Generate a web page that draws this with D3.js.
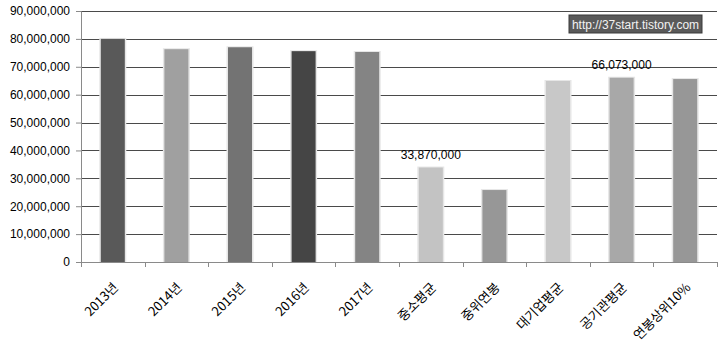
<!DOCTYPE html>
<html>
<head>
<meta charset="utf-8">
<script src="https://cdn.jsdelivr.net/npm/d3@7"></script>
<style>
  html, body { margin: 0; padding: 0; background: #fff; }
  svg { display: block; }
</style>
</head>
<body>
<div id="chart"></div>
<script>
// 데이터
const categories = ['2013년', '2014년', '2015년', '2016년', '2017년', '중소평균', '중위연봉', '대기업평균', '공기관평균', '연봉상위10%'];
const salaries = [80000000, 76300000, 77000000, 75600000, 75300000, 33870000, 25800000, 64900000, 66073000, 65600000];
const barColors = ['#595959', '#a0a0a0', '#737373', '#454545', '#848484', '#c3c3c3', '#979797', '#c8c8c8', '#a8a8a8', '#979797'];
const yTicks = [0, 10000000, 20000000, 30000000, 40000000, 50000000, 60000000, 70000000, 80000000, 90000000];
const labelled = ['중소평균', '공기관평균'];

const W = 720, H = 345;
const margin = { top: 11, right: 3, bottom: 83, left: 81 };
const width = W - margin.left - margin.right;
const height = H - margin.top - margin.bottom;

const svg = d3.select('#chart').append('svg')
    .attr('width', W)
    .attr('height', H);

const g = svg.append('g')
    .attr('transform', `translate(${margin.left},${margin.top})`);

const x = d3.scaleBand()
    .domain(categories)
    .range([0, width])
    .paddingInner(0)
    .paddingOuter(0);

const y = d3.scaleLinear()
    .domain([0, 90000000])
    .range([height, 0]);

// 그리드
g.append('g')
    .selectAll('line')
    .data(yTicks.filter(d => d > 0))
    .join('line')
    .attr('x1', 0)
    .attr('x2', width)
    .attr('y1', d => Math.round(y(d)) + 0.5)
    .attr('y2', d => Math.round(y(d)) + 0.5)
    .attr('stroke', '#4a4a4a')
    .attr('stroke-width', 1);

// Y축
const yAxis = g.append('g')
    .call(d3.axisLeft(y).tickValues(yTicks).tickSize(5).tickPadding(6).tickFormat(d3.format(',')));
yAxis.select('.domain').attr('stroke', '#8a8a8a');
yAxis.selectAll('.tick line').attr('stroke', '#8a8a8a');
yAxis.selectAll('text')
    .attr('font-family', '"Liberation Sans", Arial, sans-serif')
    .attr('font-size', 12)
    .attr('fill', '#000');

// 막대 (그림자)
const barW = 24;
g.append('g')
    .selectAll('rect')
    .data(categories)
    .join('rect')
    .attr('x', d => x(d) + x.bandwidth() / 2 - barW / 2 - 1.5)
    .attr('y', (d, i) => y(salaries[i]) - 1)
    .attr('width', barW + 3)
    .attr('height', (d, i) => height - y(salaries[i]) + 1)
    .attr('fill', '#e6e6e6');

g.append('g')
    .selectAll('rect')
    .data(categories)
    .join('rect')
    .attr('x', d => x(d) + x.bandwidth() / 2 - barW / 2)
    .attr('y', (d, i) => y(salaries[i]))
    .attr('width', barW)
    .attr('height', (d, i) => height - y(salaries[i]))
    .attr('fill', (d, i) => barColors[i]);

// X축
const xAxis = g.append('g')
    .attr('transform', `translate(0,${height})`)
    .call(d3.axisBottom(x).tickSize(0).tickFormat(''));
xAxis.select('.domain').attr('stroke', '#8a8a8a');

g.append('g')
    .selectAll('line')
    .data(d3.range(categories.length + 1))
    .join('line')
    .attr('x1', i => Math.round(i * x.step()) + 0.5)
    .attr('x2', i => Math.round(i * x.step()) + 0.5)
    .attr('y1', height)
    .attr('y2', height + 5)
    .attr('stroke', '#8a8a8a');

g.append('g')
    .selectAll('text')
    .data(categories)
    .join('text')
    .attr('transform', d => `translate(${x(d) + x.bandwidth() / 2 + 3},${height + 23}) rotate(-45)`)
    .attr('text-anchor', 'end')
    .attr('dy', '0.35em')
    .attr('font-family', '"Noto Sans CJK KR", sans-serif')
    .attr('font-size', 13)
    .attr('fill', '#000')
    .text(d => d);

// 데이터 레이블
g.append('g')
    .selectAll('text')
    .data(categories.filter(d => labelled.includes(d)))
    .join('text')
    .attr('x', d => x(d) + x.bandwidth() / 2)
    .attr('y', d => y(salaries[categories.indexOf(d)]) - 9)
    .attr('text-anchor', 'middle')
    .attr('font-family', '"Liberation Sans", Arial, sans-serif')
    .attr('font-size', 12)
    .attr('fill', '#000')
    .text(d => d3.format(',')(salaries[categories.indexOf(d)]));

// 워터마크
const wm = svg.append('g').attr('transform', 'translate(569,15)');
wm.append('rect')
    .attr('width', 133)
    .attr('height', 18)
    .attr('fill', '#5a5a5a')
    .attr('stroke', '#3a3a3a');
wm.append('text')
    .attr('x', 66.5)
    .attr('y', 13.5)
    .attr('text-anchor', 'middle')
    .attr('font-family', '"Liberation Sans", Arial, sans-serif')
    .attr('font-size', 12)
    .attr('fill', '#f2f2f2')
    .text('http://37start.tistory.com');
</script>
</body>
</html>
